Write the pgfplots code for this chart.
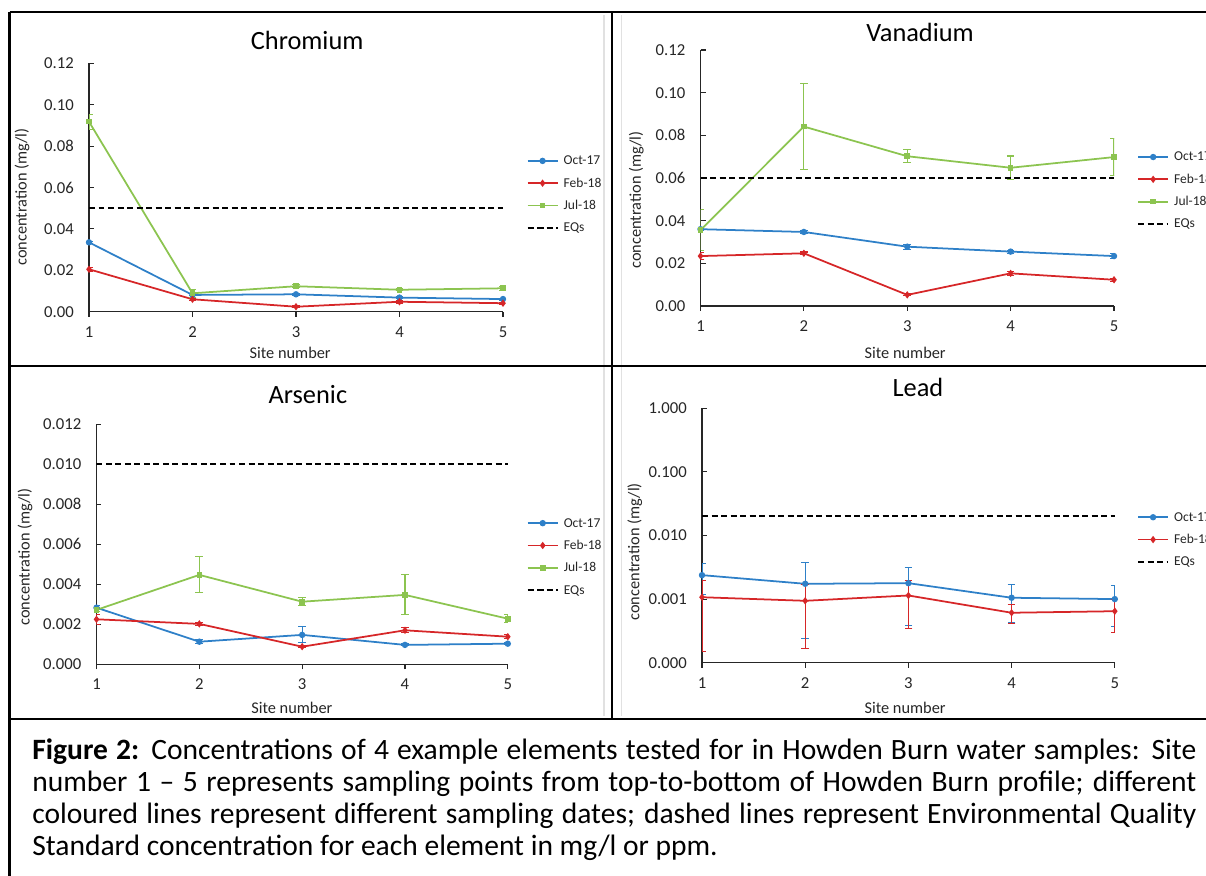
\documentclass[border=0pt]{standalone}
\usepackage{fontspec}
\setmainfont{Carlito}
\usepackage{pgfplots}
\pgfplotsset{compat=1.18}
\definecolor{oct}{RGB}{46,128,200}
\definecolor{feb}{RGB}{214,38,40}
\definecolor{jul}{RGB}{140,196,80}
\definecolor{panelgrey}{RGB}{225,225,225}

\pgfplotsset{
  every axis title shift=0pt,
  panel/.style={
    scale only axis,
    axis x line=bottom, axis y line=left,
    axis line style={black!85, line width=0.6pt, -},
    xmin=1, xmax=5, xtick={1,2,3,4,5},
    tick align=inside, major tick length=0.1cm,
    tick style={black!85, line width=0.6pt},
    major x tick style={yshift=-0.1cm},
    minor tick style={draw=none},
    scaled y ticks=false,
    /pgf/number format/assume math mode=true,
    ticklabel style={font=\fontsize{9.5}{11}\selectfont, text=black!85},
    yticklabel style={xshift=-0.18cm},
    xticklabel style={yshift=-0.17cm},
    label style={font=\fontsize{9.3}{11}\selectfont, text=black!85},
    title style={font=\fontsize{15}{18}\selectfont, yshift=0pt},
    xlabel={Site number},
    ylabel={concentration (mg/l)},
    legend cell align=left,
    legend style={draw=none, fill=none, inner sep=0pt, anchor=north west,
      font=\fontsize{7.7}{9}\selectfont, text=black!85,
      nodes={inner sep=0pt, text height=6pt, text depth=1.5pt},
      row sep=5.2pt,
      /tikz/every odd column/.append style={column sep=0.1cm}},
    error bars/y dir=both, error bars/y explicit,
  },
  ser/.style={color=#1, line width=1pt, mark size=1.3pt,
    error bars/error bar style={color=#1, line width=0.6pt},
    error bars/error mark options={rotate=90, mark size=2.2pt, line width=0.6pt, color=#1}},
  eqs/.style={black, line width=1.2pt, dash pattern=on 0.12cm off 0.07cm},
  fix2/.style={yticklabel style={/pgf/number format/fixed, /pgf/number format/fixed zerofill, /pgf/number format/precision=#1}},
}

\begin{document}
\begin{tikzpicture}
\useasboundingbox (0,0) rectangle (24.12,17.52);
\clip (0,0) rectangle (24.12,17.52);

% frame
\draw[panelgrey, line width=0.6pt] (12.08,3.2) -- (12.08,17.22) (12.434,3.2) -- (12.434,17.22);
\draw[black, line width=1.3pt] (0.19,17.28) -- (24.2,17.28);
\draw[black, line width=1.3pt] (0.19,17.28) -- (0.19,-0.1);
\draw[black, line width=1.3pt] (0.19,10.206) -- (24.2,10.206);
\draw[black, line width=1.3pt] (0.19,3.14) -- (24.2,3.14);
\draw[black, line width=1.3pt] (12.245,17.28) -- (12.245,3.14);

% Chromium
\begin{axis}[panel, at={(1.78cm,11.286cm)}, anchor=south west,
  width=8.28cm, height=4.968cm,
  ymin=0, ymax=0.12, ytick={0,0.02,...,0.12}, fix2=2,
  title={Chromium}, title style={at={(0.527,1.09)}, anchor=center},
  xlabel style={at={(0.486,-0.166)}, anchor=center},
  ylabel style={at={(-0.162,0.462)}, anchor=center},
  legend style={at={(1.056,0.635)}},
]
\addplot[ser=oct, mark=*] coordinates {
  (1,0.0335) +- (0,0.0006) (2,0.0081) +- (0,0.0005) (3,0.0084) +- (0,0.0005)
  (4,0.0068) +- (0,0.0005) (5,0.0061) +- (0,0.0005)};
\addplot[ser=feb, mark=diamond*] coordinates {
  (1,0.0205) +- (0,0.001) (2,0.0060) +- (0,0.0004) (3,0.0024) +- (0,0.0005)
  (4,0.0048) +- (0,0.0006) (5,0.0041) +- (0,0.0005)};
\addplot[ser=jul, mark=square*, mark size=1.1pt] coordinates {
  (1,0.0918) +- (0,0.0036) (2,0.0089) +- (0,0.002) (3,0.0123) +- (0,0.0008)
  (4,0.0106) +- (0,0.0005) (5,0.0113) +- (0,0.001)};
\addplot[eqs] coordinates {(1,0.05) (5,0.05)};
\legend{Oct-17, Feb-18, Jul-18, EQs}
\end{axis}

% Vanadium
\begin{axis}[panel, at={(14.01cm,11.40cm)}, anchor=south west,
  width=8.27cm, height=5.12cm,
  ymin=0, ymax=0.12, ytick={0,0.02,...,0.12}, fix2=2,
  title={Vanadium}, title style={at={(0.531,1.07)}, anchor=center},
  xlabel style={at={(0.495,-0.184)}, anchor=center},
  ylabel style={at={(-0.155,0.414)}, anchor=center},
  legend style={at={(1.055,0.609)}},
]
\addplot[ser=oct, mark=*] coordinates {
  (1,0.0360) +- (0,0.0005) (2,0.0347) +- (0,0.0005) (3,0.0278) +- (0,0.0012)
  (4,0.0255) +- (0,0.0007) (5,0.0234) +- (0,0.0012)};
\addplot[ser=feb, mark=diamond*] coordinates {
  (1,0.0234) +- (0,0.0015) (2,0.0247) +- (0,0.0006) (3,0.0052) +- (0,0.0005)
  (4,0.0153) +- (0,0.001) (5,0.0123) +- (0,0.0006)};
\addplot[ser=jul, mark=square*, mark size=1.1pt] coordinates {
  (1,0.0356) +- (0,0.0095) (2,0.0841) +- (0,0.0203) (3,0.0702) +- (0,0.003)
  (4,0.0648) +- (0,0.0055) (5,0.0698) +- (0,0.0088)};
\addplot[eqs] coordinates {(1,0.06) (5,0.06)};
\legend{Oct-17, Feb-18, Jul-18, EQs}
\end{axis}

% Arsenic
\begin{axis}[panel, at={(1.93cm,4.234cm)}, anchor=south west,
  width=8.226cm, height=4.8cm,
  ymin=0, ymax=0.012, ytick={0,0.002,...,0.012}, fix2=3,
  title={Arsenic}, title style={at={(0.514,1.122)}, anchor=center},
  xlabel style={at={(0.475,-0.182)}, anchor=center},
  ylabel style={at={(-0.174,0.447)}, anchor=center},
  legend style={at={(1.045,0.617)}},
]
\addplot[ser=oct, mark=*] coordinates {
  (1,0.00283) +- (0,0.0001) (2,0.00113) +- (0,0.0001) (3,0.00147) +- (0,0.0004)
  (4,0.00097) +- (0,0.00005) (5,0.00103) +- (0,0.00005)};
\addplot[ser=feb, mark=diamond*] coordinates {
  (1,0.00225) +- (0,0.00025) (2,0.00202) +- (0,0.00007) (3,0.00088) +- (0,0.00005)
  (4,0.00170) +- (0,0.00012) (5,0.00138) +- (0,0.0001)};
\addplot[ser=jul, mark=square*, mark size=1.1pt] coordinates {
  (1,0.00272) +- (0,0.0001) (2,0.00447) +- (0,0.0009) (3,0.00313) +- (0,0.0002)
  (4,0.00347) +- (0,0.001) (5,0.00228) +- (0,0.0002)};
\addplot[eqs] coordinates {(1,0.01) (5,0.01)};
\legend{Oct-17, Feb-18, Jul-18, EQs}
\end{axis}

% Lead
\begin{axis}[panel, at={(14.04cm,4.266cm)}, anchor=south west,
  width=8.256cm, height=5.088cm,
  ymode=log, ymin=0.0001, ymax=1,
  ytick={0.0001,0.001,0.01,0.1,1},
  yticklabels={0.000,0.001,0.010,0.100,1.000},
  title={Lead}, title style={at={(0.523,1.08)}, anchor=center},
  xlabel style={at={(0.492,-0.178)}, anchor=center},
  ylabel style={at={(-0.163,0.436)}, anchor=center},
  legend style={at={(1.053,0.599)}},
]
\addplot[ser=oct, mark=*] coordinates {
  (1,0.00238) += (0,0.00125) -= (0,0.0012)
  (2,0.00174) += (0,0.0020) -= (0,0.0015)
  (3,0.00178) += (0,0.0014) -= (0,0.0014)
  (4,0.00105) += (0,0.00062) -= (0,0.00062)
  (5,0.00100) += (0,0.00063) -= (0,0.00063)};
\addplot[ser=feb, mark=diamond*] coordinates {
  (1,0.00107) += (0,0.00092) -= (0,0.00092)
  (2,0.00094) += (0,0.00077) -= (0,0.00077)
  (3,0.00114) += (0,0.0008) -= (0,0.0008)
  (4,0.00061) += (0,0.0002) -= (0,0.0002)
  (5,0.000645) += (0,0.00035) -= (0,0.00035)};
\addplot[eqs] coordinates {(1,0.02) (5,0.02)};
\legend{Oct-17, Feb-18, EQs}
\end{axis}

% caption
\node[anchor=base west, inner sep=0pt, text width=23.28cm, align=justify,
  font=\fontsize{16.8}{18.2}\selectfont] at (0.64,2.32) {%
  \textbf{Figure 2:} Concentrations of 4 example elements tested for in Howden Burn water samples: Site\linebreak
  number 1 – 5 represents sampling points from top-to-bottom of Howden Burn profile; different\linebreak
  coloured lines represent different sampling dates; dashed lines represent Environmental Quality\linebreak
  Standard concentration for each element in mg/l or ppm.};
\end{tikzpicture}
\end{document}
